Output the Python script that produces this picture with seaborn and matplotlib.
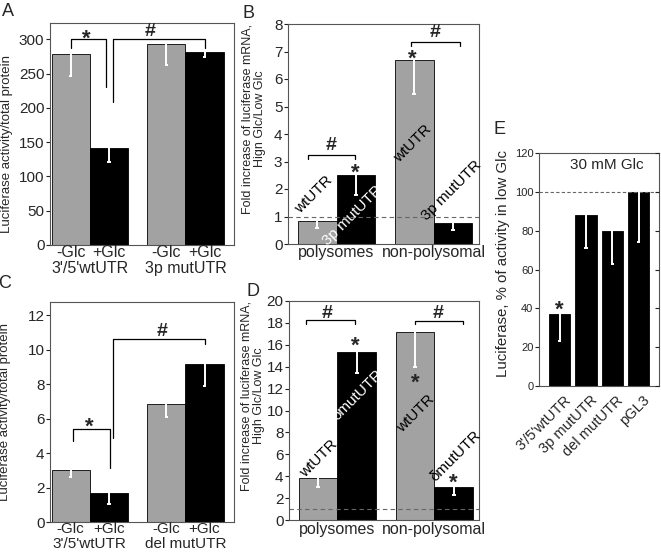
import numpy as np
import pandas as pd
import matplotlib
matplotlib.use('Agg')
import matplotlib.pyplot as plt
from matplotlib.transforms import ScaledTranslation
import seaborn as sns

# bar positions / conditions shared by panels A-D
pos4 = [0, 1, 2.5, 3.5]
cond4 = ['-Glc', '+Glc', '-Glc', '+Glc']

# A: luciferase activity, wt vs 3p mut
a_vals = [279, 142, 294, 282]
a_err = [33, 21, 32, 8]
a_groups = ["3'/5'wtUTR", "3p mutUTR"]

# B: fold increase mRNA, 3p mut
b_vals = [0.84, 2.5, 6.7, 0.78]
b_err = [0.24, 0.72, 1.25, 0.27]
b_groups = ['polysomes', 'non-polysomal']
b_bar_labels = ['wtUTR', '3p mutUTR', 'wtUTR', '3p mutUTR']

# C: luciferase activity, wt vs del mut
c_vals = [3.01, 1.68, 6.85, 9.2]
c_err = [0.37, 0.62, 0.74, 1.31]
c_groups = ["3'/5'wtUTR", "del mutUTR"]

# D: fold increase mRNA, del mut
d_vals = [3.85, 15.3, 17.2, 3.0]
d_err = [0.85, 1.9, 3.2, 0.75]
d_groups = ['polysomes', 'non-polysomal']
d_bar_labels = ['wtUTR', 'δmutUTR', 'wtUTR', 'δmutUTR']

# E: % of activity in low Glc
e_names = ["3'/5'wtUTR", '3p mutUTR', 'del mutUTR', 'pGL3']
e_vals = [37, 88, 80, 100]
e_err = [14, 17, 17, 26]

GRAY = '#a2a2a2'
FRAME = '#555555'
pal = {'-Glc': GRAY, '+Glc': 'black'}

sns.set_style('white')
plt.rcParams['font.family'] = ['Liberation Sans', 'DejaVu Sans']


def frame(ax):
    for s in ax.spines.values():
        s.set_visible(True)
        s.set_color(FRAME)
        s.set_linewidth(0.8)
    ax.tick_params(axis='y', left=True, direction='out', length=3, width=0.8,
                   color='#222222', pad=1)
    ax.tick_params(axis='x', bottom=False, length=0)


def white_err(ax, xs, vals, err, cap):
    xs = np.array(xs, dtype=float)
    lo = np.array(vals) - np.array(err)
    ax.vlines(xs, lo, vals, color='white', lw=1.4, zorder=4)
    ax.hlines(lo, xs - cap, xs + cap, color='white', lw=1.4, zorder=4)


def bracket(ax, x1, x2, y, y1, y2):
    ax.plot([x1, x1, x2, x2], [y1, y, y, y2], color='black', lw=0.9, zorder=5,
            clip_on=False)


def mark(ax, x, y, s, size=None):
    # asterisks sit high in the font box, nudge them down
    if s == '*':
        dy, size = -5, size or 16
    else:
        dy, size = 0, size or 14
    ax.annotate(s, (x, y), xytext=(0, dy), textcoords='offset points',
                ha='center', va='center', fontsize=size, fontweight='bold',
                zorder=6, annotation_clip=False)


def bar_panel(ax, vals, err, ylim, yticks, tick_size=11):
    df = pd.DataFrame({'pos': pos4, 'val': vals, 'cond': cond4})
    sns.barplot(data=df, x='pos', y='val', hue='cond', palette=pal,
                native_scale=True, dodge=False, width=1.0, errorbar=None,
                legend=False, edgecolor='black', linewidth=0.6, ax=ax)
    white_err(ax, pos4, vals, err, 0.045)
    ax.set_ylim(*ylim)
    ax.set_yticks(yticks)
    ax.set_xlabel('')
    ax.set_ylabel('')
    frame(ax)
    ax.tick_params(axis='y', labelsize=tick_size)


def glc_labels(ax, groups, y1, y2, size=11.5):
    tr = ax.get_xaxis_transform()
    ax.set_xticks([])
    for x, c in zip(pos4, cond4):
        ax.text(x, y1, c, transform=tr, ha='center', va='center', fontsize=size)
    for x, g in zip([0.5, 3.0], groups):
        ax.text(x, y2, g, transform=tr, ha='center', va='center', fontsize=size)


def group_labels(ax, groups, y):
    tr = ax.get_xaxis_transform()
    ax.set_xticks([])
    for x, g in zip([0.5, 3.0], groups):
        ax.text(x, y, g, transform=tr, ha='center', va='center', fontsize=11.5)


fig = plt.figure(figsize=(6.61, 5.53), dpi=100)
W, H = 661.0, 553.0


def add_axes(left, right, top, bottom):
    return fig.add_axes([left / W, 1 - bottom / H, (right - left) / W, (bottom - top) / H])


axA = add_axes(50, 234, 23, 245)
axB = add_axes(288, 479, 24, 244)
axC = add_axes(50, 234, 302, 522)
axD = add_axes(289, 479, 301, 520)
axE = add_axes(539, 659, 153, 386)

# ---- A
bar_panel(axA, a_vals, a_err, (0, 324), range(0, 301, 50))
axA.set_xlim(-0.54, 4.27)
glc_labels(axA, a_groups, -0.036, -0.107)
bracket(axA, 0, 0.93, 300, 287, 230)
mark(axA, 0.40, 311, '*')
bracket(axA, 1.10, 3.5, 300, 209, 287)
mark(axA, 2.07, 311, '#')
axA.text(-0.235, 0.457, 'Luciferase activity/total protein', transform=axA.transAxes,
         rotation=90, ha='center', va='center', fontsize=9.5)

# ---- B
bar_panel(axB, b_vals, b_err, (0, 8), range(0, 9))
axB.set_xlim(-0.75, 4.17)
axB.axhline(1, color='#666666', lw=0.8, ls=(0, (4, 3)), zorder=3)
group_labels(axB, b_groups, -0.038)
bracket(axB, -0.24, 0.98, 3.24, 3.08, 3.08)
mark(axB, 0.37, 3.6, '#')
mark(axB, 0.99, 2.81, '*')
bracket(axB, 2.43, 3.69, 7.36, 7.2, 7.2)
mark(axB, 3.05, 7.7, '#')
mark(axB, 2.45, 6.97, '*')
for (x, y), s, c in zip([(-0.085, 1.81), (0.92, 1.03), (2.47, 3.66), (3.46, 1.96)],
                        b_bar_labels, ['black', 'white', 'black', 'black']):
    axB.text(x, y, s, rotation=45, ha='center', va='center', fontsize=11, color=c, zorder=6)
axB.text(-0.18, 0.57, 'Fold increase of luciferase mRNA,\nHign Glc/Low Glc',
         transform=axB.transAxes, rotation=90, ha='center', va='center',
         fontsize=9, linespacing=1.1)

# ---- C
bar_panel(axC, c_vals, c_err, (0, 12.77), range(0, 13, 2))
axC.set_xlim(-0.54, 4.27)
glc_labels(axC, c_groups, -0.032, -0.1, size=11)
bracket(axC, 0.05, 1.03, 5.38, 4.7, 3.12)
mark(axC, 0.49, 5.88, '*')
bracket(axC, 1.10, 3.51, 10.65, 4.86, 10.36)
mark(axC, 2.38, 11.03, '#')
axC.text(-0.245, 0.50, 'Luciferase activity/total protein', transform=axC.transAxes,
         rotation=90, ha='center', va='center', fontsize=9.5)

# ---- D
bar_panel(axD, d_vals, d_err, (0, 20), range(0, 21, 2))
axD.set_xlim(-0.75, 4.15)
axD.axhline(1, color='#666666', lw=0.8, ls=(0, (4, 3)), zorder=3)
group_labels(axD, d_groups, -0.042)
bracket(axD, -0.32, 0.95, 18.24, 17.9, 17.9)
mark(axD, 0.24, 18.9, '#')
mark(axD, 0.97, 16.47, '*')
bracket(axD, 2.49, 3.74, 18.2, 17.9, 17.9)
mark(axD, 3.09, 18.9, '#')
mark(axD, 2.5, 13.1, '*')
mark(axD, 3.5, 3.95, '*')
for (x, y), s, c in zip([(0.02, 5.6), (1.01, 11.4), (2.51, 9.7), (3.54, 5.8)],
                        d_bar_labels, ['black', 'white', 'black', 'black']):
    axD.text(x, y, s, rotation=45, ha='center', va='center', fontsize=11, color=c, zorder=6)
axD.text(-0.19, 0.567, 'Fold increase of luciferase mRNA,\nHigh Glc/Low Glc',
         transform=axD.transAxes, rotation=90, ha='center', va='center',
         fontsize=9, linespacing=1.1)

# ---- E
sns.barplot(x=e_names, y=e_vals, color='black', width=0.81, errorbar=None,
            edgecolor='black', linewidth=0.6, ax=axE)
white_err(axE, range(4), e_vals, e_err, 0.06)
axE.set_ylim(0, 120)
axE.set_yticks(range(0, 121, 20))
axE.set_xlim(-0.79, 3.78)
frame(axE)
axE.tick_params(axis='y', labelsize=8)
axE.axhline(100, color='#666666', lw=0.8, ls=(0, (3, 2)), zorder=3)
axE.set_xticks(range(4))
axE.set_xticklabels(e_names, rotation=45, ha='right', va='center',
                    rotation_mode='anchor', fontsize=10.5)
axE.tick_params(axis='x', pad=0)
shift = ScaledTranslation(0.09, -0.12, fig.dpi_scale_trans)
for lab in axE.get_xticklabels():
    lab.set_transform(lab.get_transform() + shift)
axE.set_xlabel('')
axE.text(1.8, 113.7, '30 mM Glc', ha='center', va='center', fontsize=11)
mark(axE, 0.0, 42.8, '*')
axE.text(-0.30, 0.527, 'Luciferase, % of activity in low Glc', transform=axE.transAxes,
         rotation=90, ha='center', va='center', fontsize=10.8)
axE2 = axE.twinx()
axE2.set_ylim(0, 120)
axE2.set_yticks(range(0, 121, 20))
axE2.tick_params(axis='y', right=True, direction='in', length=3, width=0.8,
                 labelright=False, color='#222222')
for s in axE2.spines.values():
    s.set_visible(False)

# panel letters
for letter, (x, y) in zip('ABCDE', [(8, 12), (248, 13), (5, 283), (253, 292), (500, 130)]):
    fig.text(x / W, 1 - y / H, letter, ha='center', va='center', fontsize=13)

fig.savefig('out.png', dpi=100)
